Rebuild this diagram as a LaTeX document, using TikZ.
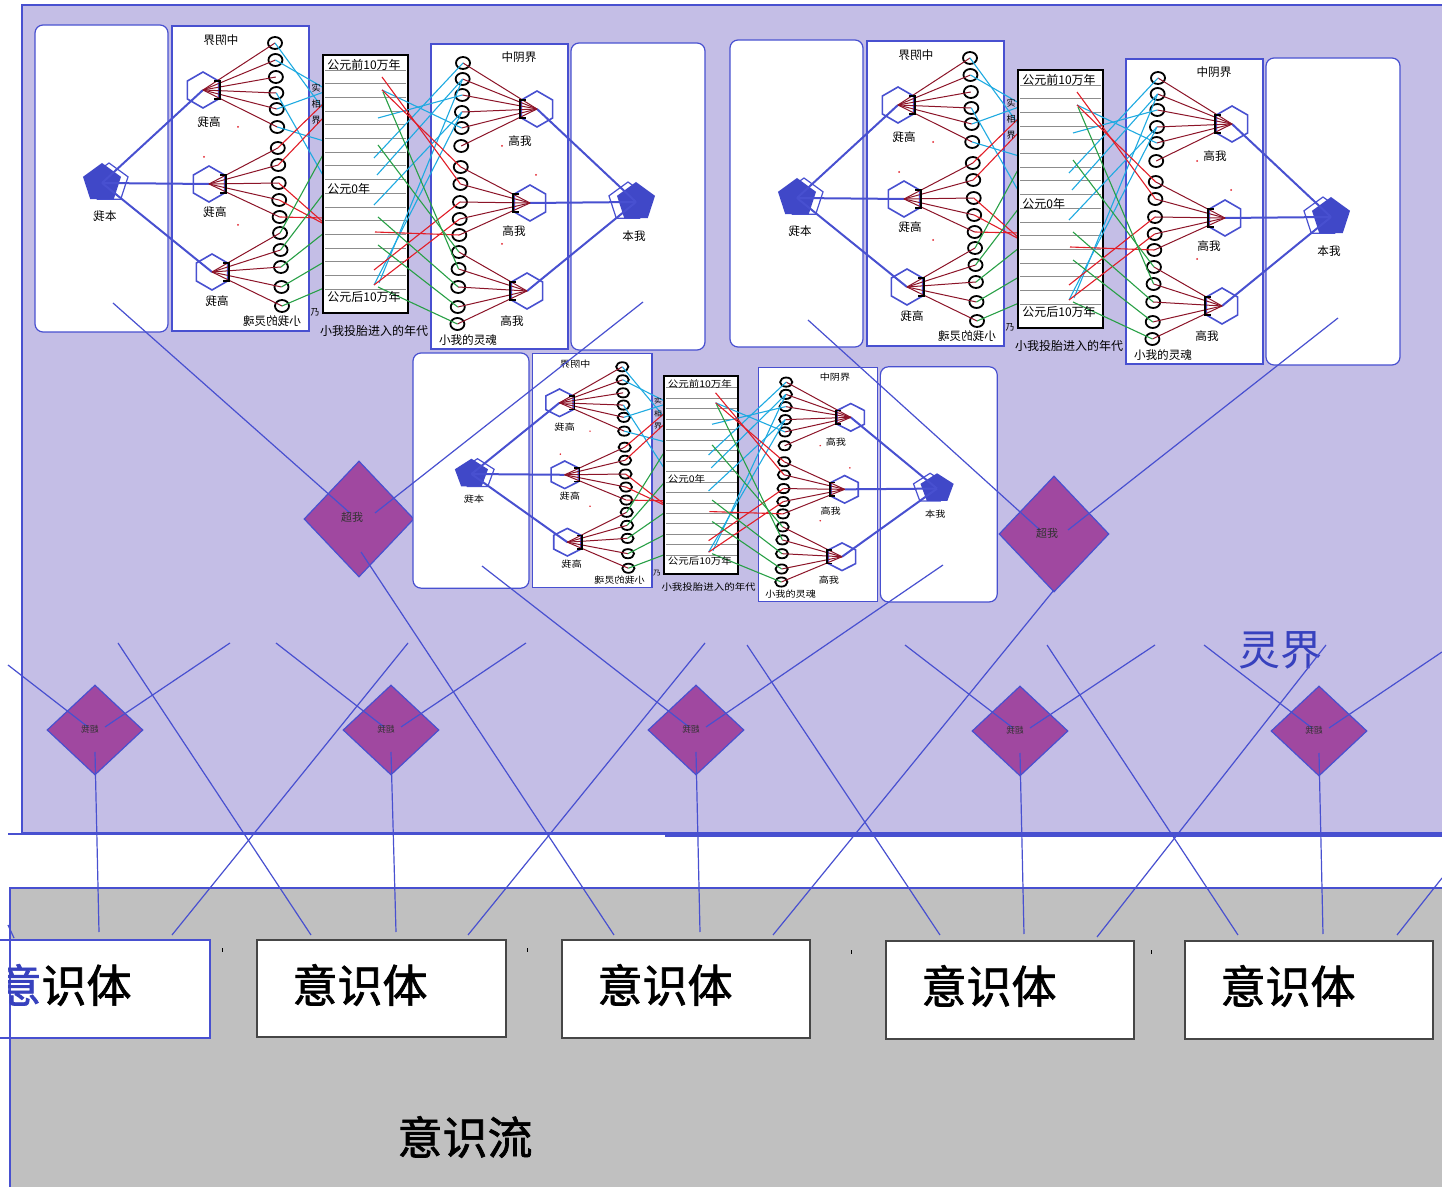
\documentclass[tikz,border=0pt]{standalone}
\usepackage{fontspec}
\usepackage{graphicx}
\newfontfamily\cjk{Noto Sans CJK SC}
\newfontfamily\cjkb[FakeBold=1.5]{Noto Sans CJK SC}
\usetikzlibrary{shapes.geometric,calc}
\definecolor{lav}{RGB}{196,190,230}
\definecolor{lblue}{RGB}{72,80,208}
\definecolor{pblue}{RGB}{64,72,200}
\definecolor{ublue}{RGB}{55,65,190}
\definecolor{dred}{RGB}{140,20,40}
\definecolor{rred}{RGB}{225,30,40}
\definecolor{ccyan}{RGB}{30,170,225}
\definecolor{ggreen}{RGB}{40,160,70}
\definecolor{purp}{RGB}{160,72,160}
\definecolor{gbg}{RGB}{192,192,192}
\definecolor{dgray}{RGB}{70,70,70}
\tikzset{
 cbox/.style={draw=lblue, fill=white, line width=0.6pt},
 hexs/.style={regular polygon, regular polygon sides=6, shape border rotate=30, draw=lblue, line width=0.8pt, minimum size=18pt, inner sep=0pt},
 pentf/.style={regular polygon, regular polygon sides=5, fill=pblue, minimum size=20pt, inner sep=0pt},
 pento/.style={regular polygon, regular polygon sides=5, draw=lblue, line width=0.6pt, minimum size=20pt, inner sep=0pt},
 soul/.style={ellipse, draw=black, line width=0.9pt, minimum width=7pt, minimum height=6pt, inner sep=0pt},
 fan/.style={draw=dred, line width=0.5pt},
 bline/.style={draw=lblue, line width=1pt},
 thinb/.style={draw=lblue, line width=0.6pt},
 cy/.style={draw=ccyan, line width=0.55pt},
 rd/.style={draw=rred, line width=0.55pt},
 gr/.style={draw=ggreen, line width=0.55pt},
 brk/.style={draw=black, line width=0.8pt},
 lbl/.style={font={\cjk\fontsize{5.8pt}{6pt}\selectfont}, inner sep=0pt},
 tlbl/.style={font={\cjk\fontsize{6pt}{6pt}\selectfont}, inner sep=0pt},
 slbl/.style={font={\cjk\fontsize{4.5pt}{5pt}\selectfont}, inner sep=0pt},
 tlbox/.style={draw=black, fill=white, line width=1.1pt},
 tlline/.style={draw=black!45, line width=0.4pt},
 bigd/.style={diamond, fill=purp, draw=lblue, line width=0.6pt, minimum width=55pt, minimum height=58pt, inner sep=0pt},
 smalld/.style={diamond, fill=purp, draw=lblue, line width=0.6pt, minimum width=48pt, minimum height=45pt, inner sep=0pt},
 dlbl/.style={font={\cjk\fontsize{5.5pt}{6pt}\selectfont}, text=black!80, inner sep=0pt},
 sdlbl/.style={font={\cjk\fontsize{4.3pt}{5pt}\selectfont}, text=black!80, inner sep=0pt},
 ybox/.style={draw=dgray, fill=white, line width=0.8pt},
 bigtxt/.style={font={\cjkb\fontsize{22.5pt}{24pt}\selectfont}, inner sep=0pt},
}
\newcommand\drawcluster[1]{%
  \draw[cbox,rounded corners=4pt] (35,25) rectangle (168,332);
  \draw[cbox] (172,26) rectangle (309,331);
  \draw[cbox] (431,44) rectangle (568,349);
  \draw[cbox,rounded corners=4pt] (571,43) rectangle (705,350);
  \node[pento] (#1-P1o) at (109,183) {};
  \node[pentf] (#1-P1) at (102,183) {};
  \node[pento] (#1-P2o) at (628,202) {};
  \node[pentf] (#1-P2) at (636,202) {};
  \node[hexs] (#1-HL1) at (203,90) {};
  \node[hexs] (#1-HL2) at (209,184) {};
  \node[hexs] (#1-HL3) at (212,272) {};
  \node[hexs] (#1-HR1) at (537,109) {};
  \node[hexs] (#1-HR2) at (530,203) {};
  \node[hexs] (#1-HR3) at (527,291) {};
  \foreach \i/\yy in {1/43,2/60,3/77,4/93,5/109,6/127,7/148,8/165,9/183,10/200,11/217,12/233,13/250,14/267,15/287,16/306}
    {\node[soul] (#1-L\i) at ({275+(\yy-43)*0.0266},\yy) {};}
  \foreach \i/\yy in {1/63,2/79,3/95,4/112,5/128,6/146,7/167,8/184,9/202,10/219,11/235,12/252,13/269,14/287,15/307,16/324}
    {\node[soul] (#1-R\i) at ({463-(\yy-63)*0.0215},\yy) {};}
  \foreach \h in {1,2,3}
    {\draw[bline] (#1-P1.center) -- (#1-HL\h.center);
     \draw[bline] (#1-HR\h.center) -- (#1-P2.center);}
  \foreach \i in {1,...,6} {\draw[fan] (#1-HL1.center) -- (#1-L\i.center); \draw[fan] (#1-HR1.center) -- (#1-R\i.center);}
  \foreach \i in {7,...,11} {\draw[fan] (#1-HL2.center) -- (#1-L\i.center); \draw[fan] (#1-HR2.center) -- (#1-R\i.center);}
  \foreach \i in {12,...,16} {\draw[fan] (#1-HL3.center) -- (#1-L\i.center); \draw[fan] (#1-HR3.center) -- (#1-R\i.center);}
  % crossing lines, left part
  \foreach \i/\yy in {1/110,2/88,4/177,5/92,6/141} {\draw[cy] (#1-L\i.center) -- (324,\yy);}
  \foreach \i/\yy in {7/103,8/117,9/223,10/224,11/218} {\draw[rd] (#1-L\i.center) -- (324,\yy);}
  \foreach \i/\yy in {12/153,13/193,14/233,15/262,16/288} {\draw[gr] (#1-L\i.center) -- (324,\yy);}
  % timeline
  \draw[tlbox] (323,55) rectangle (408,313);
  \foreach \k in {0,...,16} {\draw[tlline] (325,{70+13.7*\k}) -- (406,{70+13.7*\k});}
  % crossing lines, right part
  \foreach \xx/\yy/\i in {382/90/5,378/118/3,374/158/1,377/175/2,374/205/4,374/285/4,379/283/2} {\draw[cy] (\xx,\yy) -- (#1-R\i.center);}
  \foreach \xx/\yy/\i in {382/77/8,382/90/7,375/232/11,374/270/9,374/285/10} {\draw[rd] (\xx,\yy) -- (#1-R\i.center);}
  \foreach \xx/\yy/\i in {383/92/13,378/145/12,378/217/14,378/245/15,378/287/16} {\draw[gr] (\xx,\yy) -- (#1-R\i.center);}
  % brackets
  \draw[brk] (214,81) -- (220,81) -- (220,99) -- (214,99);
  \draw[brk] (220,175) -- (226,175) -- (226,193) -- (220,193);
  \draw[brk] (223,263) -- (229,263) -- (229,281) -- (223,281);
  \draw[brk] (526,100) -- (520,100) -- (520,118) -- (526,118);
  \draw[brk] (519,194) -- (513,194) -- (513,212) -- (519,212);
  \draw[brk] (516,282) -- (510,282) -- (510,300) -- (516,300);
  % labels
  \node[lbl] (#1-ta) at (221,40) {\reflectbox{中阴界}};
  \node[lbl] (#1-tb) at (209,122) {\reflectbox{高我}};
  \node[lbl] (#1-tc) at (215,212) {\reflectbox{高我}};
  \node[lbl] (#1-td) at (217,301) {\reflectbox{高我}};
  \node[lbl] (#1-te) at (105,216) {\reflectbox{本我}};
  \node[lbl] (#1-tf) at (272,321) {\reflectbox{小我的灵魂}};
  \node[lbl] (#1-tg) at (519,57) {中阴界};
  \node[lbl] (#1-th) at (520,141) {高我};
  \node[lbl] (#1-ti) at (514,231) {高我};
  \node[lbl] (#1-tj) at (512,321) {高我};
  \node[lbl] (#1-tk) at (634,236) {本我};
  \node[lbl] (#1-tl) at (468,340) {小我的灵魂};
  \node[tlbl,anchor=west] (#1-tm) at (327,65) {公元前10万年};
  \node[tlbl,anchor=west] (#1-tn) at (327,189) {公元0年};
  \node[tlbl,anchor=west] (#1-to) at (327,297) {公元后10万年};
  \node[tlbl] (#1-tp) at (374,331) {小我投胎进入的年代};
  \node[slbl] (#1-tq) at (316,88) {实};
  \node[slbl] (#1-tr) at (316,104) {相};
  \node[slbl] (#1-ts) at (316,120) {界};
  \node[slbl] (#1-tt) at (315,312) {乃};
  % small marks
  \foreach \xx/\yy in {238/127,204/157,238/225,502/146,536/175,502/244} {\fill[rred] (\xx,\yy) circle (0.5pt);}
}
\begin{document}
\begin{tikzpicture}[x={(0.5pt,0)}, y={(0,-0.5pt)}]
\useasboundingbox (0,0) rectangle (1442,1187);
\fill[white] (0,0) rectangle (1442,1187);
% backgrounds
\draw[fill=lav, draw=lblue, line width=0.6pt] (22,5) rectangle (1470,833);
\draw[lblue, line width=0.6pt] (8,834) -- (1442,834);
\draw[lblue, line width=0.6pt] (665,836) -- (1442,836);
\draw[fill=gbg, draw=lblue, line width=0.6pt] (10,888) rectangle (1470,1210);
% diamonds
\node[bigd] (D1) at (359,519) {};
\node[bigd] (D2) at (1054,534) {};
\node[smalld] (d1) at (95,730) {};
\node[smalld] (d2) at (391,730) {};
\node[smalld] (d3) at (696,730) {};
\node[smalld] (d4) at (1020,731) {};
\node[smalld] (d5) at (1319,731) {};
% clusters
\drawcluster{a}
\begin{scope}[shift={(695,15)}]
\drawcluster{b}
\end{scope}
\begin{scope}[shift={(413,353)}, xscale=0.872, yscale=0.766, shift={(-35,-25)}, transform shape]
\drawcluster{c}
\end{scope}
% consciousness boxes
\draw[fill=white, draw=lblue, line width=0.6pt] (-5,940) rectangle (210,1038);
\draw[ybox] (257,940) rectangle (506,1037);
\draw[ybox] (562,940) rectangle (810,1038);
\draw[ybox] (886,941) rectangle (1134,1039);
\draw[ybox] (1185,941) rectangle (1433,1039);
\draw[lblue, line width=0.6pt] (10,888) -- (10,1187);
\begin{scope}
\clip (8,940) rectangle (210,1038);
\node[bigtxt] (y1) at (64,985) {{\color{ublue}意}识体};
\end{scope}
\node[bigtxt] (y2) at (360,985) {意识体};
\node[bigtxt] (y3) at (665,985) {意识体};
\node[bigtxt] (y4) at (989,986) {意识体};
\node[bigtxt] (y5) at (1288,986) {意识体};
\node[bigtxt] (yl) at (465,1137) {意识流};
\node[bigtxt, font={\cjk\fontsize{21pt}{22pt}\selectfont}, text=ublue] (lj) at (1280,650) {灵界};
% long lines
\coordinate (e1) at (113,303);
\coordinate (e2) at (643,302);
\coordinate (e3) at (614,935);
\coordinate (e4) at (808,320);
\coordinate (e5) at (1338,318);
\coordinate (e6) at (773,935);
\draw[thinb] (e1) -- ($(D1)+(-9,-6)$);
\draw[thinb] (e2) -- ($(D1)+(16,-6)$);
\draw[thinb] ($(D1)+(2,33)$) -- (e3);
\draw[thinb] (e4) -- ($(D2)+(-14,-4)$);
\draw[thinb] (e5) -- ($(D2)+(14,-4)$);
\draw[thinb] ($(D2)+(0,56)$) -- (e6);
\foreach \n/\ulx/\uly/\urx/\ury/\bx/\by in {d1/8/665/230/643/99/932, d2/276/643/526/643/396/932, d3/482/566/943/565/700/932, d4/905/645/1155/645/1024/934, d5/1204/645/1442/652/1323/934}
 {\draw[thinb] (\ulx,\uly) -- ($(\n)+(-7,-3)$);
  \draw[thinb] (\urx,\ury) -- ($(\n)+(10,-3)$);
  \draw[thinb] ($(\n)+(0,22)$) -- (\bx,\by);}
\foreach \ax/\ay/\bx/\by in {118/643/311/935, 408/643/172/935, 705/643/468/935, 747/645/940/935, 1047/645/1238/935, 1326/645/1097/937, 1442/878/1397/935, 8/925/14/938}
 {\draw[thinb] (\ax,\ay) -- (\bx,\by);}
% diamond labels
\node[dlbl] (D1t) at (352,517) {超我};
\node[dlbl] (D2t) at (1047,533) {超我};
\foreach \n in {d1,d2,d3,d4,d5} {\node[sdlbl] (\n t) at ($(\n)+(-5,-1)$) {\reflectbox{超我}};}
% tiny marks
\foreach \xx/\yy in {222/950,527/950,851/952,1151/952} {\draw[black, line width=0.4pt] (\xx,\yy-2) -- (\xx,\yy+2);}
\end{tikzpicture}
\end{document}
